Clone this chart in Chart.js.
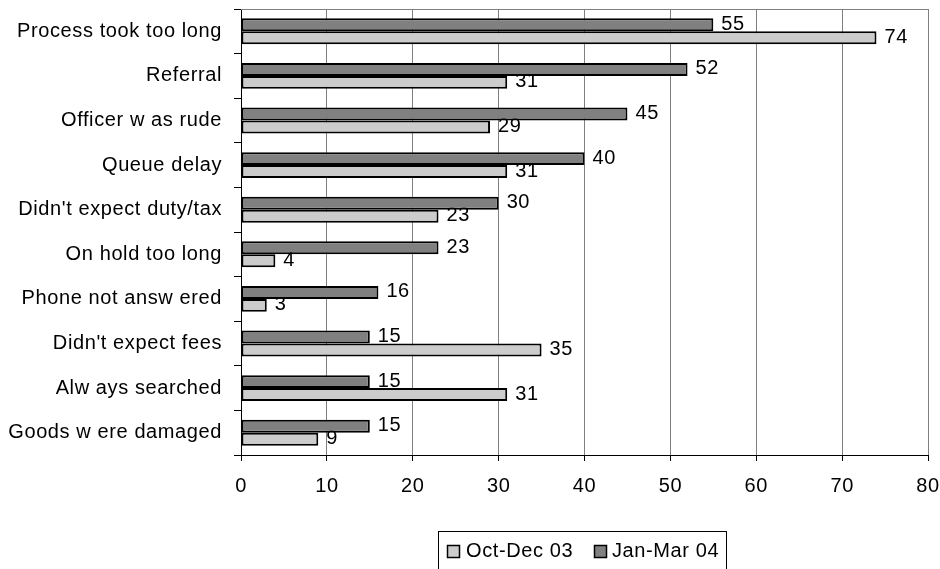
<!DOCTYPE html>
<html>
<head>
<meta charset="utf-8">
<script src="https://cdn.jsdelivr.net/npm/chart.js@4"></script>
<style>
html,body{margin:0;padding:0;background:#fff;}
canvas{display:block;}
</style>
</head>
<body>
<canvas id="c" width="940" height="569"></canvas>
<script>
const categories = ["Process took too long","Referral","Officer w as rude","Queue delay","Didn't expect duty/tax","On hold too long","Phone not answ ered","Didn't expect fees","Alw ays searched","Goods w ere damaged"];
const janMar04 = [55,52,45,40,30,23,16,15,15,15];
const octDec03 = [74,31,29,31,23,4,3,35,31,9];
const xTicks = [0,10,20,30,40,50,60,70,80];

const FONT = '"Liberation Sans", Arial, sans-serif';
const DARK = '#808080';
const LIGHT = '#cccccc';
const SPACING = '0.6px';

const labelPlugin = {
  id: 'labels',
  beforeLayout(chart) { chart.ctx.letterSpacing = SPACING; },
  beforeDraw(chart) { chart.ctx.letterSpacing = SPACING; },
  beforeDatasetsDraw(chart) {
    const ctx = chart.ctx;
    const a = chart.chartArea;
    ctx.save();
    ctx.strokeStyle = '#808080';
    ctx.lineWidth = 1;
    ctx.beginPath();
    ctx.moveTo(a.left, a.top + 0.5);
    ctx.lineTo(a.right, a.top + 0.5);
    ctx.stroke();
    ctx.letterSpacing = SPACING;
    ctx.font = '20px ' + FONT;
    ctx.fillStyle = '#000';
    ctx.textAlign = 'left';
    ctx.textBaseline = 'middle';
    chart.data.datasets.forEach((ds, di) => {
      const meta = chart.getDatasetMeta(di);
      meta.data.forEach((bar, i) => {
        ctx.fillText(String(ds.data[i]), bar.x + 8, bar.y - 0.5);
      });
    });
    ctx.restore();
  },
  afterDraw(chart) {
    const ctx = chart.ctx;
    ctx.save();
    ctx.letterSpacing = SPACING;
    ctx.strokeStyle = '#000';
    ctx.lineWidth = 1;
    ctx.strokeRect(438.5, 531.5, 288, 45);
    ctx.font = '20px ' + FONT;
    ctx.textBaseline = 'middle';
    ctx.textAlign = 'left';
    const items = [
      {label: 'Oct-Dec 03', color: LIGHT, sx: 447, tx: 466},
      {label: 'Jan-Mar 04', color: DARK, sx: 594, tx: 612}
    ];
    items.forEach(it => {
      ctx.fillStyle = it.color;
      ctx.fillRect(it.sx, 545, 12, 12);
      ctx.lineWidth = 1.5;
      ctx.strokeRect(it.sx + 0.5, 545.5, 12, 12);
      ctx.fillStyle = '#000';
      ctx.fillText(it.label, it.tx, 551);
    });
    ctx.restore();
  }
};

new Chart(document.getElementById('c'), {
  type: 'bar',
  data: {
    labels: categories,
    datasets: [
      {label: 'Jan-Mar 04', data: janMar04, backgroundColor: DARK, borderColor: '#000', borderWidth: 2, borderSkipped: false},
      {label: 'Oct-Dec 03', data: octDec03, backgroundColor: LIGHT, borderColor: '#000', borderWidth: 2, borderSkipped: false}
    ]
  },
  options: {
    indexAxis: 'y',
    responsive: false,
    animation: false,
    devicePixelRatio: 1,
    layout: {padding: {left: 0, top: 9, right: 12, bottom: 0}},
    datasets: {bar: {categoryPercentage: 0.58, barPercentage: 1.0}},
    plugins: {legend: {display: false}, tooltip: {enabled: false}},
    scales: {
      x: {
        min: 0, max: 80,
        afterBuildTicks(scale) { scale.ticks = xTicks.map(v => ({value: v})); },
        grid: {color: '#808080', tickColor: '#000', tickLength: 6, lineWidth: 1},
        border: {color: '#000', width: 1},
        ticks: {color: '#000', font: {family: FONT, size: 20}, padding: 13, maxRotation: 0},
        afterFit(scale) { scale.height = 114; scale.paddingLeft = 0; scale.paddingRight = 0; }
      },
      y: {
        grid: {drawOnChartArea: false, color: '#000', tickLength: 7, offset: true},
        border: {color: '#000', width: 1},
        ticks: {color: '#000', font: {family: FONT, size: 20}, padding: 12, autoSkip: false},
        afterFit(scale) { scale.width = 241; scale.paddingTop = 0; scale.paddingBottom = 0; }
      }
    }
  },
  plugins: [labelPlugin]
});
</script>
</body>
</html>
